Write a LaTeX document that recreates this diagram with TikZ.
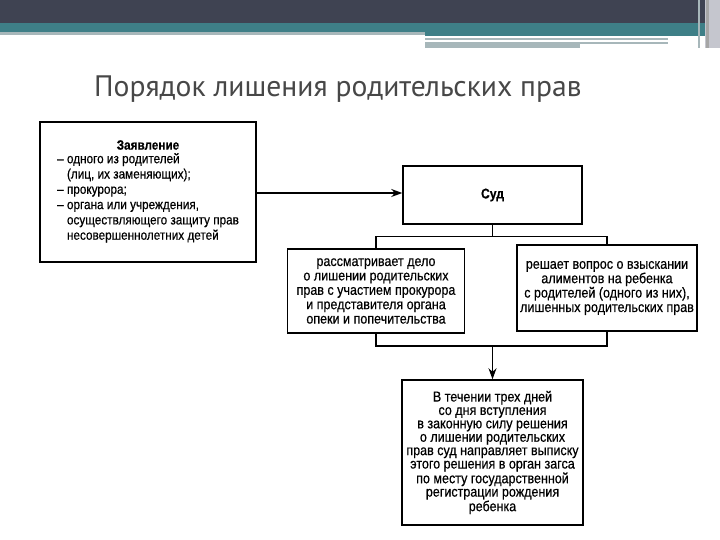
\documentclass[tikz,border=0pt]{standalone}
\usepackage{fontspec}
\setmainfont{Liberation Sans}[FakeStretch=0.87,FakeBold=0.5]
\newfontfamily\titlefont{PT Sans}
\usetikzlibrary{arrows.meta,calc}
\definecolor{hdrdark}{HTML}{3F4352}
\definecolor{hdrteal}{HTML}{3E7F87}
\definecolor{hdrlight}{HTML}{A7B7BA}
\definecolor{hdrpale}{HTML}{C5C6CE}
\definecolor{titlegray}{HTML}{474747}
\tikzset{
  frame/.style={draw=black, line width=1.5pt, inner sep=0pt},
  conn/.style={draw=black, line width=1.1pt},
  arr/.style={conn, -{Stealth[length=11pt,width=8pt]}},
  body/.style={font=\fontsize{14.4}{14.4}\selectfont, align=center, inner sep=0pt},
}
\begin{document}
\begin{tikzpicture}[x=1pt,y=-1pt]
\useasboundingbox (0,0) rectangle (720,540);
% header
\fill[hdrdark] (0,0) rectangle (705,23);
\fill[hdrteal] (0,23) rectangle (705,32);
\fill[hdrlight] (0,32) rectangle (425,35);
\fill[hdrteal] (425,32) rectangle (705,36);
\fill[hdrlight] (425,38) rectangle (668,40);
\fill[hdrlight] (425,42) rectangle (580,48);
\fill[hdrlight] (580,42) rectangle (668,44);
\fill[hdrlight] (698,0) rectangle (700,48);
\fill[hdrpale] (705,0) rectangle (720,48);
\fill[gray!70] (706,0) rectangle (709,48);
% title
\node[anchor=base west, inner sep=0pt, text=titlegray, font=\titlefont\fontsize{29.6}{34}\selectfont] (title) at (94,97) {Порядок лишения родительских прав};
% boxes
\node[frame, minimum width=216pt, minimum height=140pt] (zay) at (148,192) {};
\node[frame, minimum width=177pt, minimum height=84pt] (lft) at (376,291) {};
\node[frame, minimum width=179pt, minimum height=58pt] (sud) at (492.5,195) {};
\node[frame, minimum width=180pt, minimum height=86pt] (rgt) at (607,288) {};
\node[frame, minimum width=181pt, minimum height=145pt] (bot) at (492.5,452.5) {};
% texts
\node[body, font=\bfseries\fontsize{13.5}{14}\selectfont] (zayt) at (148,145) {Заявление};
\node[anchor=north west, align=left, inner sep=0pt, font=\fontsize{13.5}{15.3}\selectfont] (zayl) at (57,153)
 {– одного из родителей\\
  \phantom{– }(лиц, их заменяющих);\\
  – прокурора;\\
  – органа или учреждения,\\
  \phantom{– }осуществляющего защиту прав\\
  \phantom{– }несовершеннолетних детей};
\node[body, font=\bfseries\fontsize{14}{14}\selectfont] (sudt) at (sud) {Суд};
\node[body] (lftt) at (lft) {рассматривает дело\\о лишении родительских\\прав с участием прокурора\\и представителя органа\\опеки и попечительства};
\node[body] (rgtt) at (rgt) {решает вопрос о взыскании\\алиментов на ребенка\\с родителей (одного из них),\\лишенных родительских прав};
\node[body, font=\fontsize{14.4}{13.4}\selectfont] (bott) at (bot) {В течении трех дней\\со дня вступления\\в законную силу решения\\о лишении родительских\\прав суд направляет выписку\\этого решения в орган загса\\по месту государственной\\регистрации рождения\\ребенка};
% connectors
\coordinate (j1) at ($(sud.south)+(0,12)$);
\coordinate (j2) at (bot.north |- 0,346);
\draw[arr] (zay.east |- 0,193) -- (sud.west |- 0,193);
\draw[conn] (sud.south) -- (j1);
\draw[conn] (lft.north) |- (j1) -| (rgt.north);
\draw[conn] (lft.south) |- (j2) -| (rgt.south);
\draw[arr] (j2) -- (bot.north);
\end{tikzpicture}
\end{document}
